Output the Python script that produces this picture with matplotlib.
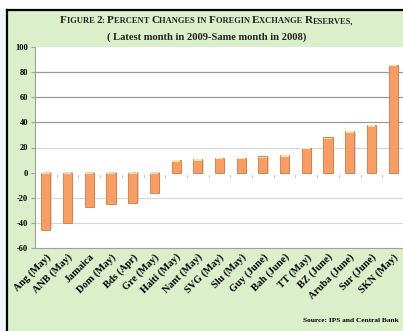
import matplotlib
matplotlib.use('Agg')

import numpy as np
import matplotlib.pyplot as plt
from matplotlib.patches import Rectangle

# Data
countries = ['Ang (May)', 'ANB (May)', 'Jamaica', 'Dom (May)', 'Bds (Apr)',
             'Gre (May)', 'Haiti (May)', 'Nant (May)', 'SVG (May)', 'Slu (May)',
             'Guy (June)', 'Bah (June)', 'TT (May)', 'BZ (June)', 'Aruba (June)',
             'Sur (June)', 'SKN (May)']
changes = [-46, -40, -27, -25, -24, -16, 10, 11, 12, 12, 13, 14, 20, 28, 33, 38, 86]
yticks = [-60, -40, -20, 0, 20, 40, 60, 80, 100]

W, H = 403, 331
fig = plt.figure(figsize=(W / 100, H / 100), dpi=100)
fig.patch.set_facecolor('white')

serif = 'Liberation Serif'
green = '#DCEFCB'

# Background frame: light blue strip, green panel, black border
fig.patches.append(Rectangle((0, 0), 6.5 / W, 1 - 10 / H, transform=fig.transFigure,
                             facecolor='#EEF6FB', edgecolor='none', zorder=-2))
fig.patches.append(Rectangle((8 / W, 0), 1, 1 - 10 / H, transform=fig.transFigure,
                             facecolor=green, edgecolor='none', zorder=-2))
fig.lines.append(plt.Line2D([7 / W, 7 / W], [0, 1 - 9.5 / H], transform=fig.transFigure,
                            color='black', lw=1.6, zorder=-1))
fig.lines.append(plt.Line2D([7 / W, 1], [1 - 9.5 / H, 1 - 9.5 / H], transform=fig.transFigure,
                            color='black', lw=1.6, zorder=-1))

# Plot area in pixels: x 35..404, y 47..248
ax = fig.add_axes([35 / W, 1 - 248 / H, 369 / W, 201 / H])
ax.set_zorder(1)
ax.set_facecolor('white')

x = np.arange(len(countries))
# shadow, then bars
ax.bar(x + 0.06, changes, width=0.42, color='#B0A8A0', alpha=0.5, zorder=2,
       bottom=[-0.8 if v > 0 else 0.8 for v in changes])
ax.bar(x, changes, width=0.42, color='#F99D63', edgecolor='#CF7A45', linewidth=0.6, zorder=3)
# light cap at the bar end near the top / zero line
for xi, v in zip(x, changes):
    if v > 0:
        ax.bar(xi, 1.2, bottom=v - 1.4, width=0.36, color='#FDE2A8', zorder=4)
    else:
        ax.bar(xi, -1.2, bottom=-0.2, width=0.36, color='#FDE2A8', zorder=4)

ax.set_xlim(-0.5, len(countries) - 0.5)
ax.set_ylim(-60, 100)
ax.set_yticks(yticks)
ax.set_yticklabels([str(t) for t in yticks], fontsize=6, fontweight='bold', family=serif)

for t in [40, 60, 80]:
    ax.axhline(t, color='#9A9A9A', lw=0.9, zorder=1)
for t in [20, -20, -40]:
    ax.axhline(t, color='#D6D6D6', lw=0.8, zorder=1)

# small category ticks along the zero line
for b in np.arange(0.5, len(countries) - 0.5, 1.0):
    ax.plot([b, b], [-1.5, -3.5], color='#C8C8C8', lw=0.7, zorder=1)

ax.set_xticks(x)
ax.set_xticklabels(countries, rotation=45, ha='right', rotation_mode='anchor',
                   fontsize=7.4, fontweight='bold', family=serif)
ax.tick_params(axis='x', length=0, pad=3)
ax.tick_params(axis='y', length=3, color='#A0A0A0', pad=2)

for s in ['top', 'right']:
    ax.spines[s].set_visible(False)
ax.spines['left'].set_color('#A0A0A0')
ax.spines['bottom'].set_color('#A0A0A0')
ax.spines['left'].set_linewidth(0.8)
ax.spines['bottom'].set_linewidth(0.8)

# Title line 1 in small caps, built from pieces
fig.canvas.draw()
renderer = fig.canvas.get_renderer()
words = 'Figure 2: Percent Changes in Foregin Exchange Reserves,'.split(' ')
big, small = 8.0, 6.1
pieces = []
for i, w in enumerate(words):
    sep = ' ' if i < len(words) - 1 else ''
    if w.islower():
        pieces.append((w.upper() + sep, small))
        continue
    pieces.append((w[0].upper(), big))
    rest = w[1:].upper() + sep
    if rest:
        pieces.append((rest, small))

y1 = 1 - 23 / H
texts = []
for s, fs in pieces:
    t = fig.text(0, y1, s, fontsize=fs, family=serif, fontweight='bold',
                 ha='left', va='baseline', color='#222222')
    texts.append(t)
widths = [t.get_window_extent(renderer).width for t in texts]
cur = (W / 2 + 5) - sum(widths) / 2
for t, wpx in zip(texts, widths):
    t.set_x(cur / W)
    cur += wpx

fig.text((W / 2 + 5) / W, 1 - 40 / H, '( Latest month in 2009-Same month in 2008)',
         fontsize=7.6, family=serif, fontweight='bold', ha='center', va='baseline',
         color='#222222')

fig.text(399 / W, 1 - 322 / H, 'Source: IPS and Central Bank', fontsize=5.3,
         family=serif, fontweight='bold', ha='right', va='baseline')

fig.savefig('out.png', dpi=100)
